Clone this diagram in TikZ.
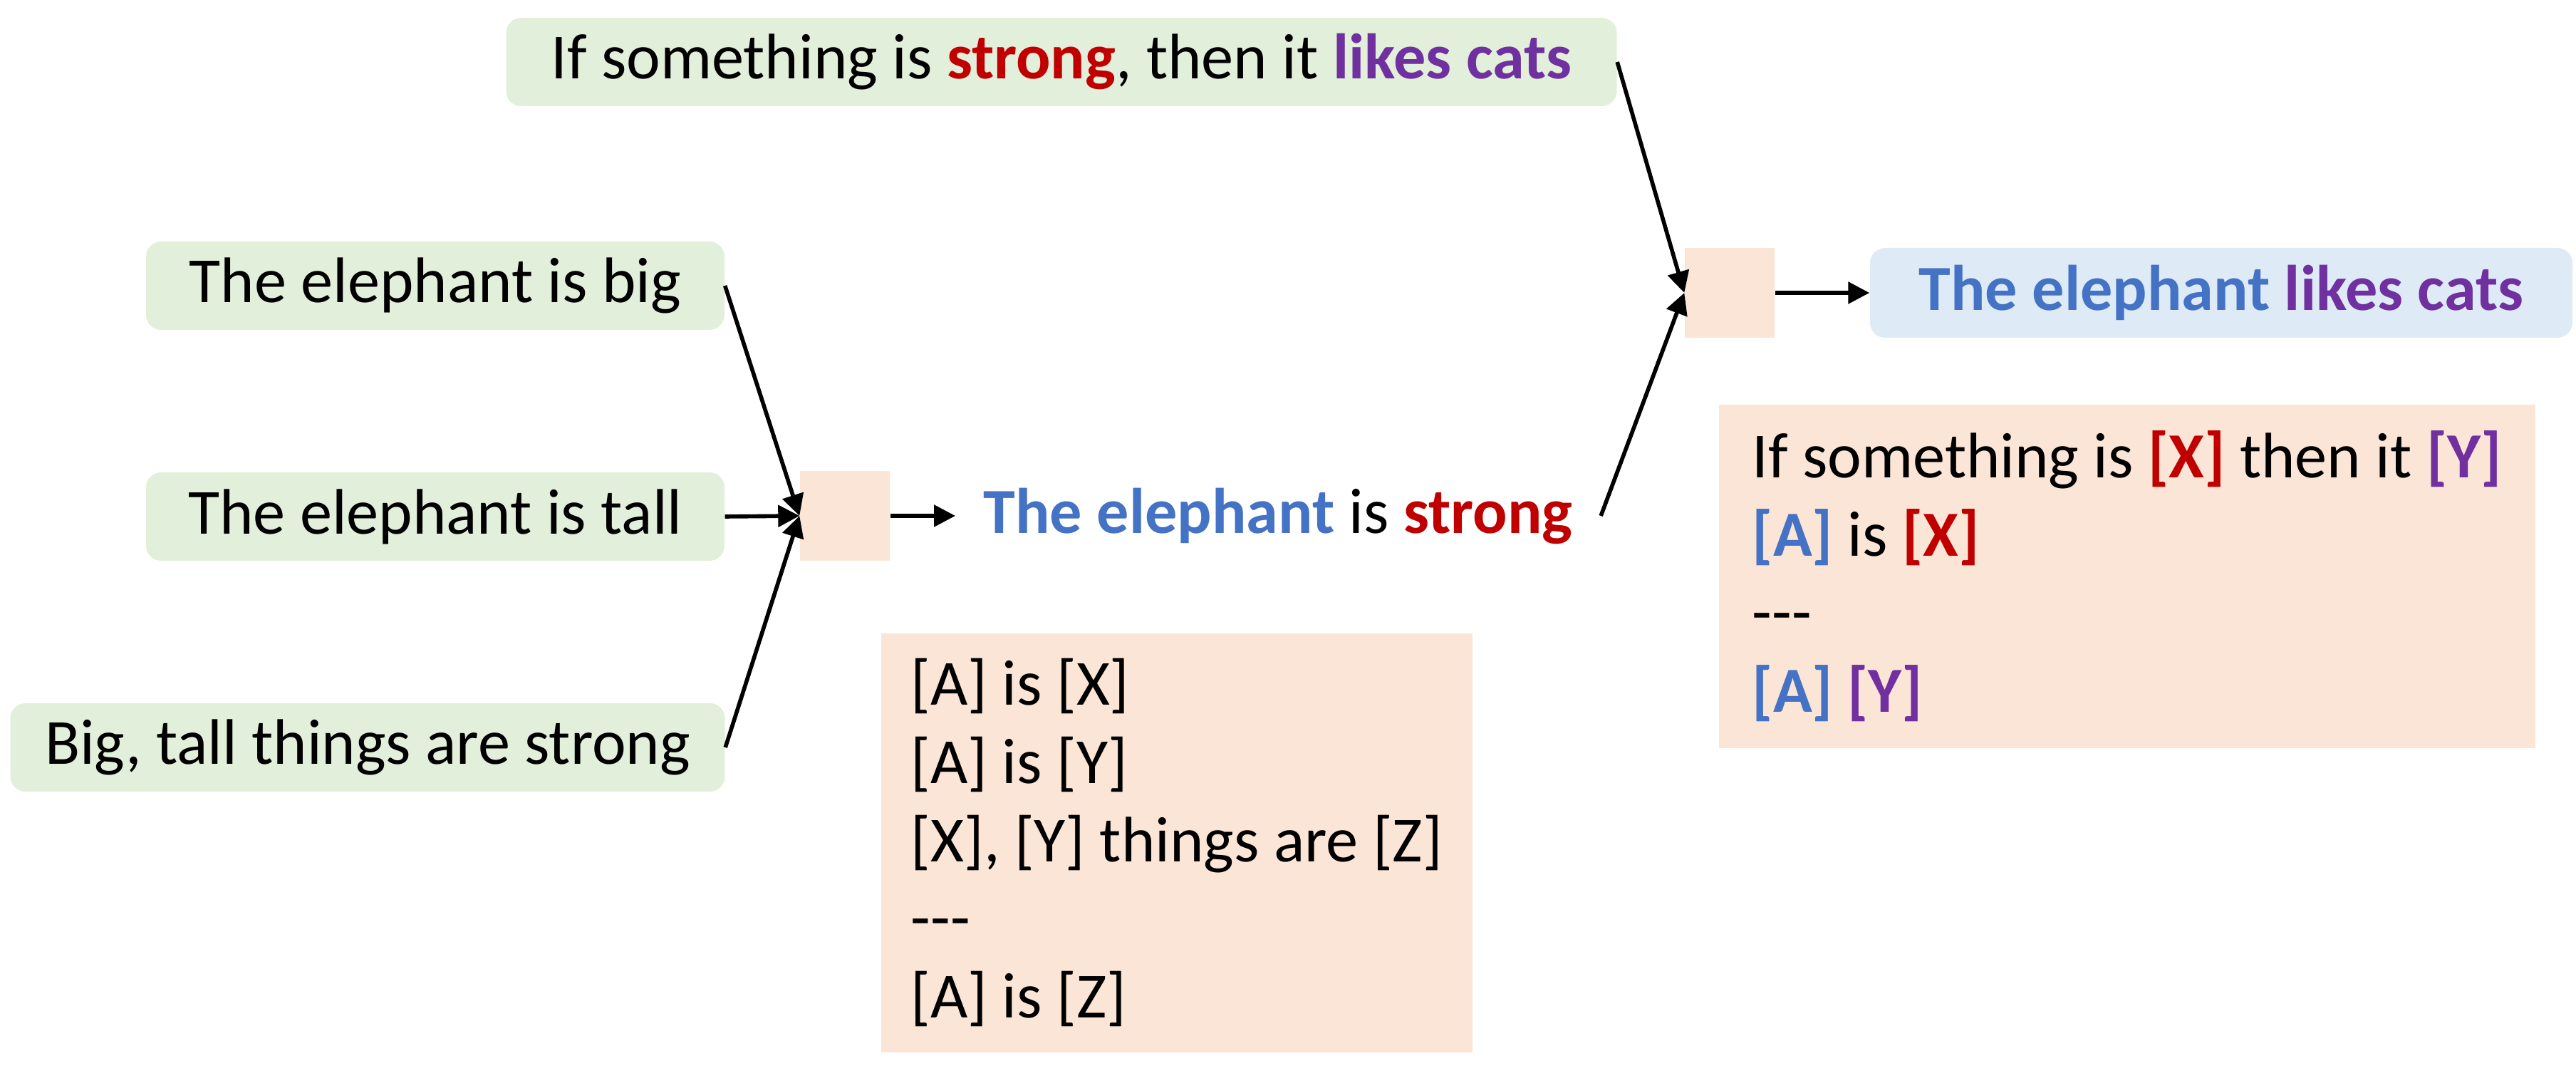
\documentclass[tikz,border=0pt]{standalone}
\usepackage{fontspec}
\setmainfont{Carlito}
\usepackage{xcolor}
\usepackage{tikz}
\usetikzlibrary{arrows.meta}
\definecolor{kgreen}{HTML}{E2EFDA}
\definecolor{kpeach}{HTML}{FBE5D6}
\definecolor{kblue}{HTML}{DEEBF7}
\definecolor{tblue}{HTML}{4472C4}
\definecolor{tred}{HTML}{C00000}
\definecolor{tpurple}{HTML}{7030A0}
\newcommand{\bigfont}{\fontsize{25.7}{31.2}\selectfont}
\newcommand{\entb}[1]{\textbf{\color{tblue}#1}}
\newcommand{\propb}[1]{\textbf{\color{tred}#1}}
\newcommand{\predb}[1]{\textbf{\color{tpurple}#1}}

\begin{document}
\begin{tikzpicture}[x=1cm, y=1cm,
  fact/.style={fill=kgreen, rounded corners=6pt, minimum height=1.24cm, inner sep=0pt, font=\bigfont},
  gate/.style={fill=kpeach, minimum size=1.26cm, inner sep=0pt},
  rulebox/.style={fill=kpeach, anchor=north west, align=left, inner sep=0pt, font=\bigfont},
  link/.style={-{Triangle[length=0.3cm, width=0.3cm]}, line width=1.6pt}]
\useasboundingbox (0,0) rectangle (36.16,15.12);
\node[fact, minimum width=15.59cm] (rule) at (14.90,14.25)
  {If something is \propb{strong}, then it \predb{likes cats}};
\node[fact, minimum width=8.12cm] (big) at (6.11,11.11) {The elephant is big};
\node[fact, minimum width=8.12cm] (tall) at (6.11,7.87) {The elephant is tall};
\node[fact, minimum width=10.03cm] (bigtall) at (5.16,4.63) {Big, tall things are strong};
\node[gate] (step1) at (11.86,7.88) {};
\node[anchor=west, inner xsep=0.39cm, font=\bigfont] (strong) at (13.41,7.88)
  {\entb{The elephant} is \propb{strong}};
\node[rulebox, minimum width=8.30cm, minimum height=5.88cm] (rules1)
  at (12.36,6.24) {{[A]} is [X]\\ {[A]} is [Y]\\ {[X]}, [Y] things are [Z]\\ -{}-{}-\\ {[A]} is [Z]};
\node[gate] (step2) at (24.28,11.01) {};
\node[fact, fill=kblue, minimum width=9.86cm, minimum height=1.26cm] (concl) at (31.18,11.01)
  {\entb{The elephant} \predb{likes cats}};
\node[rulebox, minimum width=11.46cm, minimum height=4.82cm] (rules2)
  at (24.12,9.45) {If something is \propb{[X]} then it \predb{[Y]}\\ \entb{[A]} is \propb{[X]}\\ -{}-{}-\\ \entb{[A]} \predb{[Y]}};
\draw[link] (big.east) -- (step1.west);
\draw[link] (tall.east) -- (step1.west);
\draw[link] (bigtall.east) -- (step1.west);
\draw[link] (step1.east) -- (strong.west);
\draw[link] (rule.east) -- (step2.west);
\draw[link] (strong.east) -- (step2.west);
\draw[link] (step2.east) -- (concl.west);
\end{tikzpicture}
\end{document}
